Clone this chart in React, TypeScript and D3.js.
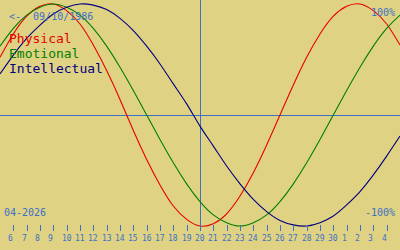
import React from "react";
import * as d3 from "d3";

const days = [5,6,7,8,9,10,11,12,13,14,15,16,17,18,19,20,21,22,23,24,25,26,27,28,29,30,31,32,33,34,35];
const physical = [0.52,0.73,0.89,0.98,1.0,0.94,0.82,0.63,0.4,0.14,-0.14,-0.4,-0.63,-0.82,-0.94,-1.0,-0.98,-0.89,-0.73,-0.52,-0.27,0,0.27,0.52,0.73,0.89,0.98,1.0,0.94,0.82,0.63];
const emotional = [0.62,0.78,0.9,0.97,1.0,0.97,0.9,0.78,0.62,0.43,0.22,0,-0.22,-0.43,-0.62,-0.78,-0.9,-0.97,-1.0,-0.97,-0.9,-0.78,-0.62,-0.43,-0.22,0,0.22,0.43,0.62,0.78,0.9];
const intellectual = [0.37,0.54,0.69,0.81,0.91,0.97,1.0,0.99,0.95,0.87,0.76,0.62,0.46,0.28,0.1,-0.1,-0.28,-0.46,-0.62,-0.76,-0.87,-0.95,-0.99,-1.0,-0.97,-0.91,-0.81,-0.69,-0.54,-0.37,-0.19];
const tickPositions = [6,7,8,9,10,11,12,13,14,15,16,17,18,19,20,21,22,23,24,25,26,27,28,29,30,31,32,33,34];
const tickLabels = ["6","7","8","9","10","11","12","13","14","15","16","17","18","19","20","21","22","23","24","25","26","27","28","29","30","1","2","3","4"];
const today = 20;
const birthLabel = "<-- 09/10/1986";
const monthLabel = "04-2026";

const W = 400, H = 250;
const BG = "#e0d283";
const AXIS = "#3b71c6";
const FONT = "'DejaVu Sans Mono', monospace";

const series = [
  { name: "Physical", values: physical, color: "#e60000" },
  { name: "Emotional", values: emotional, color: "#008000" },
  { name: "Intellectual", values: intellectual, color: "#000080" },
];

export default function App() {
  const x = d3.scaleLinear().domain([5, 35]).range([0, 400]);
  const y = d3.scaleLinear().domain([-1, 1]).range([226, 4]);
  const line = (vals: number[]) =>
    d3.line<number>()
      .x((_, i) => x(days[i]))
      .y((v) => y(v))
      .curve(d3.curveNatural)(vals) as string;

  return (
    <svg width={W} height={H} style={{ position: "fixed", left: 0, top: 0, display: "block" }}>
      <rect x={0} y={0} width={W} height={H} fill={BG} />
      {/* midline */}
      <line x1={0} x2={W} y1={Math.round(y(0)) + 0.5} y2={Math.round(y(0)) + 0.5} stroke={AXIS} strokeWidth={1} />
      {/* today line */}
      <line x1={Math.round(x(today)) + 0.5} x2={Math.round(x(today)) + 0.5} y1={0} y2={225} stroke={AXIS} strokeWidth={1} />
      {series.map((s) => (
        <path key={s.name} d={line(s.values)} fill="none" stroke={s.color} strokeWidth={1.1} />
      ))}
      {/* ticks */}
      {tickPositions.map((d, i) => {
        const px = Math.round(x(d)) + 0.5;
        return (
          <g key={d}>
            <line x1={px} x2={px} y1={225} y2={231} stroke={AXIS} strokeWidth={1} />
            <text x={px - 5.5} y={241} fontFamily={FONT} fontSize={8} fill={AXIS}>{tickLabels[i]}</text>
          </g>
        );
      })}
      <text x={9} y={20} fontFamily={FONT} fontSize={10} fill={AXIS}>{birthLabel}</text>
      <text x={395} y={16} fontFamily={FONT} fontSize={10} fill={AXIS} textAnchor="end">100%</text>
      <text x={395} y={216} fontFamily={FONT} fontSize={10} fill={AXIS} textAnchor="end">-100%</text>
      <text x={4} y={216} fontFamily={FONT} fontSize={10} fill={AXIS}>{monthLabel}</text>
      {series.map((s, i) => (
        <text key={s.name} x={9} y={43 + i * 15} fontFamily={FONT} fontSize={13} fill={s.color}>{s.name}</text>
      ))}
    </svg>
  );
}
